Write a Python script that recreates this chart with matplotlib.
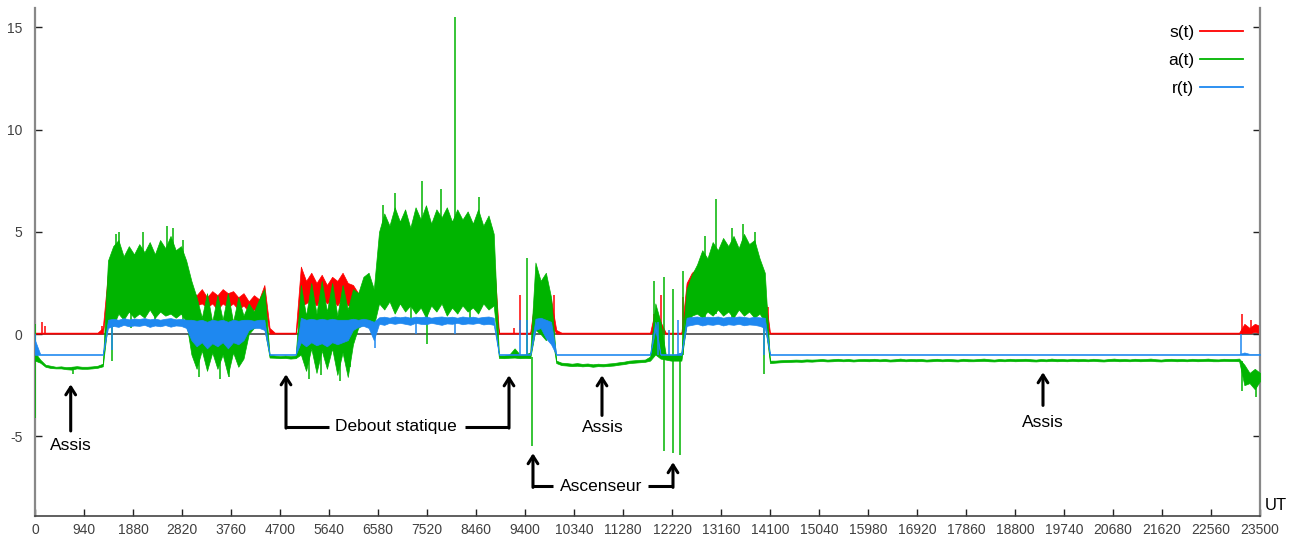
import numpy as np
import matplotlib.pyplot as plt
from matplotlib.lines import Line2D

plt.rcParams['font.family'] = ['Liberation Sans', 'DejaVu Sans']
plt.rcParams['axes.unicode_minus'] = False

# envelopes read every 100 UT (0 .. 23500), ten values per 1000 UT row
t_step = 100
t_end = 23500

# a(t) upper / lower envelope
a_hi = [
    -0.9, -1.25, -1.5, -1.55, -1.6, -1.58, -1.62, -1.6, -1.57, -1.6,
    -1.6, -1.58, -1.55, -1.45, 3.6, 4.3, 4.6, 3.8, 4.3, 3.9,
    4.4, 4.0, 4.5, 3.9, 4.6, 4.2, 4.8, 4.1, 4.3, 3.6,
    2.6, 1.8, 0.8, 2.0, 0.6, 1.9, 0.7, 2.0, 0.6, 1.8,
    0.9, 1.5, 1.1, 1.7, 2.2, -1.0, -1.05, -1.08, -1.05, -1.08,
    -1.05, 2.4, 0.9, 2.5, 1.0, 2.6, 1.1, 2.5, 0.9, 2.4,
    1.2, 2.2, 2.0, 2.8, 3.0, 2.2, 5.0, 5.9, 5.3, 6.2,
    5.5, 6.1, 5.2, 6.2, 5.6, 6.3, 5.4, 6.1, 5.7, 6.2,
    5.5, 6.1, 5.6, 6.0, 5.4, 6.1, 5.3, 5.8, 4.9, -1.05,
    -1.05, -1.0, -0.7, -1.0, -1.0, -0.9, 3.5, 2.6, 3.0, 1.8,
    -1.3, -1.4, -1.42, -1.45, -1.42, -1.46, -1.44, -1.48, -1.45, -1.47,
    -1.44, -1.42, -1.38, -1.35, -1.3, -1.28, -1.26, -1.25, -1.1, 1.5,
    0.6, -1.0, -1.02, -1.0, -0.9, 2.2, 2.9, 3.4, 4.1, 3.7,
    4.5, 4.1, 4.7, 4.3, 4.8, 4.2, 4.9, 4.4, 4.6, 3.7,
    3.0, -1.3, -1.3, -1.28, -1.27, -1.26, -1.25, -1.26, -1.24, -1.25,
    -1.24, -1.22, -1.25, -1.23, -1.21, -1.24, -1.22, -1.25, -1.23, -1.22,
    -1.23, -1.21, -1.24, -1.22, -1.25, -1.23, -1.2, -1.24, -1.22, -1.23,
    -1.22, -1.25, -1.23, -1.21, -1.24, -1.22, -1.23, -1.25, -1.21, -1.23,
    -1.24, -1.22, -1.2, -1.23, -1.25, -1.22, -1.24, -1.21, -1.23, -1.22,
    -1.21, -1.23, -1.25, -1.22, -1.24, -1.2, -1.23, -1.22, -1.24, -1.21,
    -1.23, -1.22, -1.24, -1.21, -1.23, -1.25, -1.22, -1.2, -1.23, -1.22,
    -1.24, -1.21, -1.23, -1.22, -1.2, -1.23, -1.25, -1.22, -1.21, -1.23,
    -1.22, -1.24, -1.21, -1.23, -1.22, -1.2, -1.23, -1.24, -1.21, -1.22,
    -1.22, -1.2, -1.5, -1.9, -1.7, -1.9,
]
a_lo = [
    -1.3, -1.4, -1.6, -1.66, -1.68, -1.68, -1.72, -1.74, -1.68, -1.7,
    -1.7, -1.68, -1.65, -1.58, 0.6, 0.4, 1.0, 0.7, 1.1, 0.8,
    1.0, 0.8, 1.2, 0.8, 1.1, 0.9, 1.0, 0.8, 1.0, 0.6,
    -1.0, -1.7, -0.8, -1.8, -0.9, -1.7, -1.0, -2.0, -0.9, -1.6,
    -1.2, 0.0, 0.3, 0.4, 0.3, -1.15, -1.16, -1.18, -1.17, -1.2,
    -1.18, -1.0, -1.8, -0.7, -1.9, -0.8, -1.7, -0.7, -2.0, -0.9,
    -2.1, -0.5, 0.3, 0.5, 0.6, 0.4, 1.5, 1.2, 1.6, 1.0,
    1.5, 1.1, 1.4, 1.0, 1.3, 0.8, 1.4, 1.1, 1.5, 0.9,
    1.3, 1.0, 1.4, 1.1, 1.3, 1.0, 1.5, 1.2, 1.4, -1.17,
    -1.18, -1.16, -1.15, -1.18, -1.17, -1.18, 0.2, 0.0, -0.3, 0.2,
    -1.42, -1.52, -1.54, -1.57, -1.55, -1.58, -1.56, -1.6, -1.57, -1.58,
    -1.56, -1.54, -1.5, -1.47, -1.42, -1.4, -1.38, -1.36, -1.3, -1.0,
    -1.2, -1.25, -1.3, -1.3, -1.3, 0.5, 0.9, 1.0, 0.8, 1.1,
    0.9, 1.2, 0.9, 1.1, 0.8, 1.2, 0.9, 1.1, 0.8, 1.0,
    0.6, -1.42, -1.4, -1.38, -1.37, -1.36, -1.35, -1.36, -1.34, -1.35,
    -1.33, -1.32, -1.34, -1.33, -1.31, -1.33, -1.32, -1.34, -1.32, -1.32,
    -1.33, -1.31, -1.33, -1.32, -1.34, -1.33, -1.31, -1.33, -1.32, -1.33,
    -1.32, -1.34, -1.33, -1.31, -1.33, -1.32, -1.33, -1.34, -1.31, -1.33,
    -1.33, -1.32, -1.31, -1.33, -1.34, -1.32, -1.33, -1.31, -1.33, -1.32,
    -1.31, -1.33, -1.34, -1.32, -1.33, -1.31, -1.33, -1.32, -1.33, -1.31,
    -1.33, -1.32, -1.33, -1.31, -1.33, -1.34, -1.32, -1.31, -1.33, -1.32,
    -1.33, -1.31, -1.33, -1.32, -1.31, -1.33, -1.34, -1.32, -1.31, -1.33,
    -1.32, -1.33, -1.31, -1.33, -1.32, -1.31, -1.33, -1.33, -1.31, -1.32,
    -1.32, -1.33, -2.5, -2.4, -2.7, -2.3,
]

# s(t) upper / lower envelope
s_hi = [
    0.07, 0.07, 0.07, 0.07, 0.07, 0.07, 0.07, 0.07, 0.07, 0.07,
    0.07, 0.07, 0.07, 0.3, 3.0, 2.6, 2.9, 2.5, 2.8, 2.6,
    2.9, 2.6, 2.8, 2.5, 2.9, 2.7, 2.8, 2.6, 2.7, 2.4,
    2.1, 1.9, 2.2, 1.8, 2.1, 1.9, 2.2, 2.0, 2.1, 1.8,
    2.0, 1.6, 1.9, 1.7, 2.4, 0.3, 0.07, 0.07, 0.07, 0.07,
    0.07, 3.3, 2.6, 3.0, 2.5, 2.9, 2.4, 2.8, 2.6, 3.0,
    2.5, 2.4, 2.0, 2.3, 2.0, 1.8, 4.0, 4.6, 4.2, 4.8,
    4.4, 4.7, 4.2, 4.9, 4.5, 4.8, 4.3, 4.6, 4.9, 4.4,
    4.7, 4.3, 4.8, 4.5, 4.2, 4.6, 4.4, 4.1, 3.8, 0.07,
    0.07, 0.07, 0.07, 0.07, 0.07, 0.07, 2.0, 1.6, 2.0, 1.7,
    0.2, 0.07, 0.07, 0.07, 0.07, 0.07, 0.07, 0.07, 0.07, 0.07,
    0.07, 0.07, 0.07, 0.07, 0.07, 0.07, 0.07, 0.07, 0.07, 1.2,
    0.6, 0.07, 0.07, 0.07, 0.07, 2.5, 3.0, 3.2, 3.4, 3.3,
    3.5, 3.3, 3.6, 3.4, 3.7, 3.5, 3.6, 3.4, 3.5, 3.0,
    2.0, 0.07, 0.07, 0.07, 0.07, 0.07, 0.07, 0.07, 0.07, 0.07,
    0.07, 0.07, 0.07, 0.07, 0.07, 0.07, 0.07, 0.07, 0.07, 0.07,
    0.07, 0.07, 0.07, 0.07, 0.07, 0.07, 0.07, 0.07, 0.07, 0.07,
    0.07, 0.07, 0.07, 0.07, 0.07, 0.07, 0.07, 0.07, 0.07, 0.07,
    0.07, 0.07, 0.07, 0.07, 0.07, 0.07, 0.07, 0.07, 0.07, 0.07,
    0.07, 0.07, 0.07, 0.07, 0.07, 0.07, 0.07, 0.07, 0.07, 0.07,
    0.07, 0.07, 0.07, 0.07, 0.07, 0.07, 0.07, 0.07, 0.07, 0.07,
    0.07, 0.07, 0.07, 0.07, 0.07, 0.07, 0.07, 0.07, 0.07, 0.07,
    0.07, 0.07, 0.07, 0.07, 0.07, 0.07, 0.07, 0.07, 0.07, 0.07,
    0.07, 0.07, 0.5, 0.3, 0.5, 0.4,
]
s_lo = [
    0.02, 0.02, 0.02, 0.02, 0.02, 0.02, 0.02, 0.02, 0.02, 0.02,
    0.02, 0.02, 0.02, 0.02, 1.8, 1.6, 1.9, 1.7, 1.8, 1.7,
    1.8, 1.7, 1.9, 1.6, 1.8, 1.7, 1.9, 1.7, 1.8, 1.5,
    1.3, 1.4, 1.5, 1.3, 1.5, 1.2, 1.5, 1.3, 1.5, 1.2,
    1.4, 1.1, 1.2, 1.0, 1.5, 0.02, 0.02, 0.02, 0.02, 0.02,
    0.02, 1.4, 1.5, 1.7, 1.4, 1.8, 1.5, 1.7, 1.4, 1.8,
    1.4, 1.5, 1.2, 1.4, 1.2, 1.0, 2.0, 2.6, 2.4, 2.8,
    2.5, 2.7, 2.4, 2.8, 2.6, 2.9, 2.5, 2.7, 2.8, 2.5,
    2.7, 2.4, 2.8, 2.6, 2.4, 2.7, 2.5, 2.3, 2.0, 0.02,
    0.02, 0.02, 0.02, 0.02, 0.02, 0.02, 0.8, 0.5, 0.7, 0.5,
    0.02, 0.02, 0.02, 0.02, 0.02, 0.02, 0.02, 0.02, 0.02, 0.02,
    0.02, 0.02, 0.02, 0.02, 0.02, 0.02, 0.02, 0.02, 0.02, 0.1,
    0.02, 0.02, 0.02, 0.02, 0.02, 1.2, 1.5, 1.6, 1.7, 1.6,
    1.8, 1.7, 1.9, 1.8, 1.9, 1.7, 1.8, 1.7, 1.8, 1.5,
    0.5, 0.02, 0.02, 0.02, 0.02, 0.02, 0.02, 0.02, 0.02, 0.02,
    0.02, 0.02, 0.02, 0.02, 0.02, 0.02, 0.02, 0.02, 0.02, 0.02,
    0.02, 0.02, 0.02, 0.02, 0.02, 0.02, 0.02, 0.02, 0.02, 0.02,
    0.02, 0.02, 0.02, 0.02, 0.02, 0.02, 0.02, 0.02, 0.02, 0.02,
    0.02, 0.02, 0.02, 0.02, 0.02, 0.02, 0.02, 0.02, 0.02, 0.02,
    0.02, 0.02, 0.02, 0.02, 0.02, 0.02, 0.02, 0.02, 0.02, 0.02,
    0.02, 0.02, 0.02, 0.02, 0.02, 0.02, 0.02, 0.02, 0.02, 0.02,
    0.02, 0.02, 0.02, 0.02, 0.02, 0.02, 0.02, 0.02, 0.02, 0.02,
    0.02, 0.02, 0.02, 0.02, 0.02, 0.02, 0.02, 0.02, 0.02, 0.02,
    0.02, 0.02, 0.05, 0.05, 0.1, 0.05,
]

# r(t) upper / lower envelope
r_hi = [
    -0.3, -0.98, -0.98, -0.98, -0.98, -0.98, -0.98, -0.98, -0.98, -0.98,
    -0.98, -0.98, -0.98, -0.98, 0.7, 0.75, 0.7, 0.78, 0.72, 0.76,
    0.74, 0.78, 0.72, 0.76, 0.7, 0.75, 0.78, 0.72, 0.74, 0.7,
    0.7, 0.65, 0.7, 0.6, 0.7, 0.65, 0.7, 0.6, 0.7, 0.65,
    0.7, 0.7, 0.65, 0.7, 0.7, -0.98, -0.98, -0.98, -0.98, -0.98,
    -0.98, 0.8, 0.7, 0.75, 0.7, 0.75, 0.7, 0.75, 0.7, 0.7,
    0.7, 0.75, 0.7, 0.75, 0.7, 0.6, 0.82, 0.85, 0.8, 0.86,
    0.82, 0.86, 0.8, 0.85, 0.83, 0.86, 0.8, 0.84, 0.86, 0.82,
    0.85, 0.8, 0.86, 0.82, 0.85, 0.8, 0.84, 0.86, 0.8, -0.98,
    -0.98, -0.98, -0.98, -0.98, -0.98, -0.98, 0.75, 0.8, 0.7, 0.6,
    -0.98, -0.98, -0.98, -0.98, -0.98, -0.98, -0.98, -0.98, -0.98, -0.98,
    -0.98, -0.98, -0.98, -0.98, -0.98, -0.98, -0.98, -0.98, -0.98, 0.6,
    -0.98, -0.98, -0.98, -0.98, -0.9, 0.8, 0.84, 0.86, 0.82, 0.85,
    0.83, 0.86, 0.8, 0.85, 0.82, 0.86, 0.84, 0.8, 0.85, 0.82,
    0.8, -0.98, -0.98, -0.98, -0.98, -0.98, -0.98, -0.98, -0.98, -0.98,
    -0.98, -0.98, -0.98, -0.98, -0.98, -0.98, -0.98, -0.98, -0.98, -0.98,
    -0.98, -0.98, -0.98, -0.98, -0.98, -0.98, -0.98, -0.98, -0.98, -0.98,
    -0.98, -0.98, -0.98, -0.98, -0.98, -0.98, -0.98, -0.98, -0.98, -0.98,
    -0.98, -0.98, -0.98, -0.98, -0.98, -0.98, -0.98, -0.98, -0.98, -0.98,
    -0.98, -0.98, -0.98, -0.98, -0.98, -0.98, -0.98, -0.98, -0.98, -0.98,
    -0.98, -0.98, -0.98, -0.98, -0.98, -0.98, -0.98, -0.98, -0.98, -0.98,
    -0.98, -0.98, -0.98, -0.98, -0.98, -0.98, -0.98, -0.98, -0.98, -0.98,
    -0.98, -0.98, -0.98, -0.98, -0.98, -0.98, -0.98, -0.98, -0.98, -0.98,
    -0.98, -0.98, -0.9, -0.97, -0.97, -0.97,
]
r_lo = [
    -1.02, -1.02, -1.02, -1.02, -1.02, -1.02, -1.02, -1.02, -1.02, -1.02,
    -1.02, -1.02, -1.02, -1.02, 0.3, 0.4, 0.35, 0.45, 0.38, 0.42,
    0.4, 0.45, 0.35, 0.42, 0.38, 0.44, 0.36, 0.42, 0.4, 0.3,
    -0.3, -0.6, -0.4, -0.7, -0.45, -0.6, -0.4, -0.7, -0.4, -0.5,
    -0.3, 0.2, 0.3, 0.3, 0.2, -1.02, -1.02, -1.02, -1.02, -1.02,
    -1.02, -0.4, -0.6, -0.4, -0.55, -0.45, -0.6, -0.4, -0.5, -0.4,
    -0.3, 0.2, 0.35, 0.4, 0.3, -0.3, 0.5, 0.45, 0.55, 0.5,
    0.55, 0.5, 0.45, 0.55, 0.5, 0.48, 0.55, 0.5, 0.45, 0.52,
    0.5, 0.55, 0.48, 0.52, 0.5, 0.55, 0.47, 0.5, 0.45, -1.02,
    -1.02, -1.02, -1.02, -1.02, -1.02, -1.02, 0.2, 0.3, -0.2, -0.5,
    -1.02, -1.02, -1.02, -1.02, -1.02, -1.02, -1.02, -1.02, -1.02, -1.02,
    -1.02, -1.02, -1.02, -1.02, -1.02, -1.02, -1.02, -1.02, -1.02, 0.2,
    -1.02, -1.02, -1.02, -1.02, -1.02, 0.4, 0.45, 0.5, 0.42, 0.48,
    0.45, 0.5, 0.42, 0.48, 0.45, 0.5, 0.43, 0.47, 0.45, 0.4,
    0.3, -1.02, -1.02, -1.02, -1.02, -1.02, -1.02, -1.02, -1.02, -1.02,
    -1.02, -1.02, -1.02, -1.02, -1.02, -1.02, -1.02, -1.02, -1.02, -1.02,
    -1.02, -1.02, -1.02, -1.02, -1.02, -1.02, -1.02, -1.02, -1.02, -1.02,
    -1.02, -1.02, -1.02, -1.02, -1.02, -1.02, -1.02, -1.02, -1.02, -1.02,
    -1.02, -1.02, -1.02, -1.02, -1.02, -1.02, -1.02, -1.02, -1.02, -1.02,
    -1.02, -1.02, -1.02, -1.02, -1.02, -1.02, -1.02, -1.02, -1.02, -1.02,
    -1.02, -1.02, -1.02, -1.02, -1.02, -1.02, -1.02, -1.02, -1.02, -1.02,
    -1.02, -1.02, -1.02, -1.02, -1.02, -1.02, -1.02, -1.02, -1.02, -1.02,
    -1.02, -1.02, -1.02, -1.02, -1.02, -1.02, -1.02, -1.02, -1.02, -1.02,
    -1.02, -1.02, -1.02, -1.02, -1.02, -1.02,
]

# isolated spikes: time, bottom, top
a_spk_t = [0, 720, 1480, 1560, 1620, 1840, 2080, 2300, 2530, 2650, 2840,
           3150, 3550, 3720, 5250, 5480, 5850, 6050,
           6680, 6910, 7220, 7430, 7520, 7780, 8060, 8340, 8510, 8760,
           9440, 9540, 11870, 12060, 12230, 12370, 12440,
           12850, 13060, 13380, 13590, 13820, 13980, 23150, 23420]
a_spk_lo = [-4.1, -1.95, -1.3, 2.0, 1.0, 0.3, 1.0, 0.4, 1.0, 1.0, 0.5,
            -2.1, -2.2, -2.1, -2.2, -2.0, -2.3, -1.6,
            2.0, 1.5, 0.6, 1.5, -0.5, 1.5, 1.5, 0.7, 1.5, 2.0,
            -1.1, -5.5, -1.0, -5.7, -5.8, -5.9, -1.0,
            0.5, 1.0, 0.5, 1.0, 0.6, -1.95, -2.8, -3.1]
a_spk_hi = [0.5, -1.6, 1.0, 4.9, 5.0, 2.0, 5.0, 2.0, 5.3, 5.2, 4.6,
            0.0, 0.0, 0.0, 0.0, 0.0, 0.0, 0.0,
            6.3, 6.9, 2.0, 7.5, 1.5, 7.1, 15.5, 2.0, 6.7, 5.2,
            3.7, -1.1, 2.6, 2.8, 2.2, -1.0, 3.1,
            4.8, 6.6, 5.2, 5.4, 5.0, 1.0, -1.3, -2.0]

s_spk_t = [0, 130, 190, 1290, 9180, 9310, 9950, 11870, 12000, 12440, 14060, 23150, 23330]
s_spk_lo = [0, 0, 0, 0, 0, 0, 0, 0, 0, 0, 0, 0, 0]
s_spk_hi = [2.1, 0.6, 0.4, 0.4, 0.3, 1.9, 1.9, 1.0, 1.9, 1.8, 1.3, 1.0, 0.7]

r_spk_t = [0, 1480, 6520, 7300, 8050, 9310, 9440, 11960, 12170, 12330, 13980, 23130]
r_spk_lo = [-1.0, -0.8, -0.7, 0.0, 0.0, -1.0, -1.0, -1.0, -1.0, -1.0, -1.0, -1.0]
r_spk_hi = [0.0, 0.5, 0.4, 0.6, 0.6, 0.7, 0.7, 0.6, 0.2, 0.7, 0.5, 0.0]

labels = ['s(t)', 'a(t)', 'r(t)']
colors = ['#ff0000', '#00b400', '#1e88f0']

t = np.arange(0, t_end + 1, t_step)

fig = plt.figure(figsize=(12.93, 5.4), dpi=100)
ax = fig.add_axes([35 / 1293, 24 / 540, 1225 / 1293, 508 / 540])

ax.axhline(0, color='#555555', lw=1.3, zorder=1)

series = [(s_hi, s_lo, s_spk_t, s_spk_lo, s_spk_hi),
          (a_hi, a_lo, a_spk_t, a_spk_lo, a_spk_hi),
          (r_hi, r_lo, r_spk_t, r_spk_lo, r_spk_hi)]
for k, (hi, lo, st, slo, shi) in enumerate(series):
    ax.fill_between(t, lo, hi, color=colors[k], lw=0.5, zorder=2 + k)
    ax.vlines(st, slo, shi, colors=colors[k], lw=1.1, zorder=2 + k)

ax.set_xlim(0, 23500)
ax.set_ylim(-8.9, 15.95)
ax.set_xticks(np.arange(0, 23501, 940))
ax.set_yticks([-5, 0, 5, 10, 15])

for side in ['left', 'right']:
    ax.spines[side].set_color('#888888')
    ax.spines[side].set_linewidth(1.6)
ax.spines['bottom'].set_color('#444444')
ax.spines['bottom'].set_linewidth(1.2)
ax.spines['top'].set_visible(False)

ax.tick_params(direction='in', length=5, width=1, color='#222222',
               labelcolor='#404040', labelsize=10, right=True, top=False)
ax.tick_params(axis='x', pad=5)
ax.tick_params(axis='y', pad=9)

handles = [Line2D([], [], color=c, lw=1.3) for c in colors]
ax.legend(handles, labels, loc='upper right', bbox_to_anchor=(0.986, 0.966),
          frameon=False, markerfirst=False, fontsize=12.5, handlelength=2.45,
          handletextpad=0.35, labelspacing=0.72, borderaxespad=0, borderpad=0)

fig.text(1265 / 1293, 27 / 540, 'UT', fontsize=12, ha='left', va='bottom')

# annotations
arrow = dict(arrowstyle='->,head_length=0.55,head_width=0.35', lw=2.2,
             color='black', shrinkA=0, shrinkB=0)
lab = dict(fontsize=12.5, ha='center', va='center', color='black')
seg = dict(color='black', lw=2.2, solid_capstyle='butt')

ax.text(685, -5.44, 'Assis', **lab)
ax.annotate('', xy=(685, -2.46), xytext=(685, -4.74), arrowprops=arrow)

ax.text(6925, -4.53, 'Debout statique', **lab)
ax.plot([5640, 4815], [-4.55, -4.55], **seg)
ax.annotate('', xy=(4815, -1.97), xytext=(4815, -4.6), arrowprops=arrow)
ax.plot([8249, 9093], [-4.55, -4.55], **seg)
ax.annotate('', xy=(9093, -2.02), xytext=(9093, -4.6), arrowprops=arrow)

ax.text(10896, -4.58, 'Assis', **lab)
ax.annotate('', xy=(10877, -2.02), xytext=(10877, -3.98), arrowprops=arrow)

ax.text(19337, -4.32, 'Assis', **lab)
ax.annotate('', xy=(19337, -1.87), xytext=(19337, -3.49), arrowprops=arrow)

ax.text(10858, -7.45, 'Ascenseur', **lab)
ax.plot([9937, 9553], [-7.45, -7.45], **seg)
ax.annotate('', xy=(9553, -5.83), xytext=(9553, -7.5), arrowprops=arrow)
ax.plot([11760, 12239], [-7.45, -7.45], **seg)
ax.annotate('', xy=(12239, -6.27), xytext=(12239, -7.5), arrowprops=arrow)

fig.savefig('out.png', dpi=100)
